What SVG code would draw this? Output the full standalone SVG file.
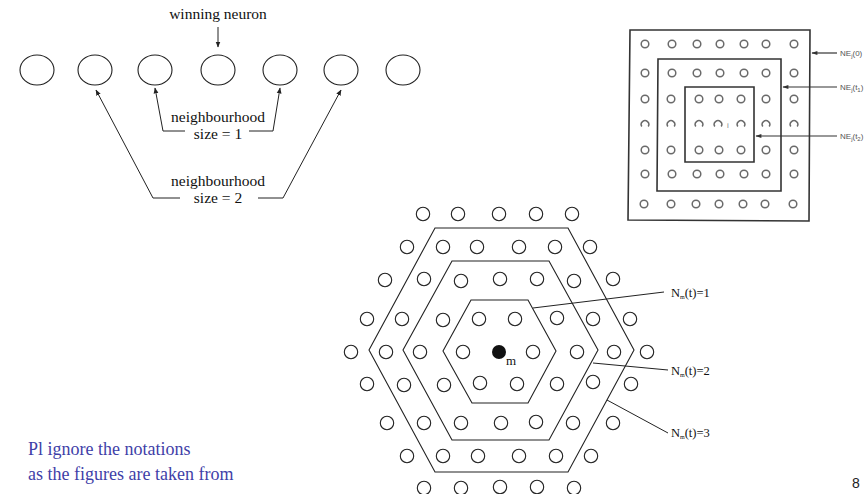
<svg xmlns="http://www.w3.org/2000/svg" width="868" height="494" viewBox="0 0 868 494">
<style>
.t{font-family:"Liberation Serif","Times New Roman",serif;fill:#111}
.n{fill:none;stroke:#222;stroke-width:1.1}
.ln{fill:none;stroke:#222;stroke-width:1}
.sq{fill:none;stroke:#333;stroke-width:1.6}
.sc{fill:none;stroke:#6a6a6a;stroke-width:1.5}
.hc{fill:none;stroke:#222;stroke-width:1.1}
.hx{fill:none;stroke:#222;stroke-width:1.1}
.lbl{font-family:"Liberation Sans",Arial,sans-serif;font-size:8px;fill:#555}
.blue{font-family:"Liberation Serif","Times New Roman",serif;font-size:18px;fill:#3f3fa8}
</style>
<defs>
<marker id="ah" viewBox="0 0 10 10" refX="9" refY="5" markerWidth="6" markerHeight="6" orient="auto" markerUnits="userSpaceOnUse">
<path d="M0,1 L10,5 L0,9 Z" fill="#222"/>
</marker>
<marker id="ah2" viewBox="0 0 10 10" refX="9" refY="5" markerWidth="7" markerHeight="6" orient="auto" markerUnits="userSpaceOnUse">
<path d="M0,1.5 L10,5 L0,8.5 Z" fill="#333"/>
</marker>
</defs>
<rect width="868" height="494" fill="#fff"/>

<!-- 1D neighbourhood -->
<g id="neuron1"><ellipse class="n" cx="37" cy="70" rx="17" ry="15"/></g>
<g id="neuron2"><ellipse class="n" cx="95" cy="70" rx="17" ry="15"/></g>
<g id="neuron3"><ellipse class="n" cx="155" cy="70" rx="17" ry="15"/></g>
<g id="neuron4"><ellipse class="n" cx="218" cy="70" rx="17" ry="15"/></g>
<g id="neuron5"><ellipse class="n" cx="280" cy="70" rx="17" ry="15"/></g>
<g id="neuron6"><ellipse class="n" cx="341" cy="70" rx="17" ry="15"/></g>
<g id="neuron7"><ellipse class="n" cx="403" cy="70" rx="17" ry="15"/></g>
<g id="label-winning"><text class="t" x="218" y="19" font-size="15.5" text-anchor="middle">winning neuron</text></g>
<g id="label-size1"><text class="t" x="218" y="122" font-size="15.5" text-anchor="middle">neighbourhood</text><text class="t" x="218" y="139" font-size="15.5" text-anchor="middle">size = 1</text></g>
<g id="label-size2"><text class="t" x="218" y="186" font-size="15.5" text-anchor="middle">neighbourhood</text><text class="t" x="218" y="203" font-size="15.5" text-anchor="middle">size = 2</text></g>
<g id="connectors-1d">
<line class="ln" x1="218" y1="27" x2="218" y2="47" marker-end="url(#ah)"/>
<polyline class="ln" points="185,131 163,131 155,88" marker-end="url(#ah)"/>
<polyline class="ln" points="249,131 273,131 280,88" marker-end="url(#ah)"/>
<polyline class="ln" points="180,198 153,198 96,90" marker-end="url(#ah)"/>
<polyline class="ln" points="258,198 283,198 341,90" marker-end="url(#ah)"/>
</g>

<!-- Square grid neighbourhood -->
<g id="square-grid">
<polygon class="sq" points="630,30 810,30 809,221 628,220"/>
<polygon class="sq" points="658,59 781,59 781,191 657,191"/>
<polygon class="sq" points="685,87 754,87 754,162 685,162"/>
<g class="sc">
<circle cx="645" cy="44" r="3.8"/><circle cx="672" cy="44" r="3.8"/><circle cx="697" cy="44" r="3.8"/><circle cx="720" cy="44" r="3.8"/><circle cx="744" cy="44" r="3.8"/><circle cx="766" cy="44" r="3.8"/><circle cx="794" cy="44" r="3.8"/>
<circle cx="645" cy="73" r="3.8"/><circle cx="672" cy="73" r="3.8"/><circle cx="697" cy="73" r="3.8"/><circle cx="720" cy="73" r="3.8"/><circle cx="744" cy="73" r="3.8"/><circle cx="766" cy="73" r="3.8"/><circle cx="794" cy="73" r="3.8"/>
<circle cx="645" cy="99" r="3.8"/><circle cx="671" cy="99" r="3.8"/><circle cx="699" cy="99" r="3.8"/><circle cx="719" cy="99" r="3.8"/><circle cx="741" cy="99" r="3.8"/><circle cx="766" cy="99" r="3.8"/><circle cx="794" cy="99" r="3.8"/>
<path d="M641.8,126.5 A3.8,3.8 0 1 1 648.2,126.5 M667.8,126.5 A3.8,3.8 0 1 1 674.2,126.5 M695.8,126.5 A3.8,3.8 0 1 1 702.2,126.5 M714.8,126.5 A3.8,3.8 0 1 1 721.2,126.5 M737.8,126.5 A3.8,3.8 0 1 1 744.2,126.5 M762.8,126.5 A3.8,3.8 0 1 1 769.2,126.5 M790.8,126.5 A3.8,3.8 0 1 1 797.2,126.5"/>
<circle cx="645" cy="150" r="3.8"/><circle cx="671" cy="150" r="3.8"/><circle cx="699" cy="150" r="3.8"/><circle cx="719" cy="150" r="3.8"/><circle cx="741" cy="150" r="3.8"/><circle cx="766" cy="150" r="3.8"/><circle cx="794" cy="150" r="3.8"/>
<circle cx="645" cy="174" r="3.8"/><circle cx="672" cy="174" r="3.8"/><circle cx="697" cy="174" r="3.8"/><circle cx="720" cy="174" r="3.8"/><circle cx="744" cy="174" r="3.8"/><circle cx="766" cy="174" r="3.8"/><circle cx="794" cy="174" r="3.8"/>
<circle cx="644" cy="204" r="3.8"/><circle cx="671" cy="204" r="3.8"/><circle cx="696" cy="204" r="3.8"/><circle cx="719" cy="204" r="3.8"/><circle cx="743" cy="204" r="3.8"/><circle cx="765" cy="204" r="3.8"/><circle cx="793" cy="204" r="3.8"/>
</g>
<text x="727" y="128" font-family="Liberation Sans,Arial,sans-serif" font-size="8" fill="#888">i</text>
</g>
<g id="connectors-square">
<line x1="837" y1="53" x2="812" y2="53" stroke="#333" stroke-width="1.2" marker-end="url(#ah2)"/>
<line x1="837" y1="87" x2="783" y2="87" stroke="#333" stroke-width="1.2" marker-end="url(#ah2)"/>
<line x1="837" y1="136" x2="756" y2="136" stroke="#333" stroke-width="1.2" marker-end="url(#ah2)"/>
</g>
<g id="label-NE0"><text class="lbl" x="840" y="56">NE<tspan font-size="6" dy="2">j</tspan><tspan dy="-2">(0)</tspan></text></g>
<g id="label-NEt1"><text class="lbl" x="840" y="90">NE<tspan font-size="6" dy="2">j</tspan><tspan dy="-2">(t</tspan><tspan font-size="6" dy="2">1</tspan><tspan dy="-2">)</tspan></text></g>
<g id="label-NEt2"><text class="lbl" x="840" y="139">NE<tspan font-size="6" dy="2">j</tspan><tspan dy="-2">(t</tspan><tspan font-size="6" dy="2">2</tspan><tspan dy="-2">)</tspan></text></g>

<!-- Hexagonal neighbourhood -->
<g id="hex-grid">
<polygon class="hx" points="435,228 568,228 634,350 568,472 435,472 369,350"/>
<polygon class="hx" points="452,261 549,261 598,350 549,440 452,440 403,350"/>
<polygon class="hx" points="471,300 528,300 556,351 528,403 472,403 443,351"/>
<g class="hc">
<circle cx="423" cy="214" r="6.7"/><circle cx="458" cy="214" r="6.7"/><circle cx="499" cy="214" r="6.7"/><circle cx="536" cy="214" r="6.7"/><circle cx="572" cy="214" r="6.7"/>
<circle cx="407" cy="247" r="6.7"/><circle cx="443" cy="247" r="6.7"/><circle cx="477" cy="247" r="6.7"/><circle cx="519" cy="247" r="6.7"/><circle cx="555" cy="247" r="6.7"/><circle cx="590" cy="247" r="6.7"/>
<circle cx="385" cy="280" r="6.7"/><circle cx="424" cy="279" r="6.7"/><circle cx="461" cy="281" r="6.7"/><circle cx="500" cy="279" r="6.7"/><circle cx="537" cy="279" r="6.7"/><circle cx="574" cy="281" r="6.7"/><circle cx="613" cy="279" r="6.7"/>
<circle cx="367" cy="319" r="6.7"/><circle cx="402" cy="319" r="6.7"/><circle cx="443" cy="320" r="6.7"/><circle cx="479" cy="319" r="6.7"/><circle cx="515" cy="319" r="6.7"/><circle cx="557" cy="318" r="6.7"/><circle cx="593" cy="319" r="6.7"/><circle cx="630" cy="319" r="6.7"/>
<circle cx="351" cy="352" r="6.7"/><circle cx="386" cy="352" r="6.7"/><circle cx="420" cy="352" r="6.7"/><circle cx="463" cy="352" r="6.7"/><circle cx="533" cy="352" r="6.7"/><circle cx="577" cy="352" r="6.7"/><circle cx="614" cy="352" r="6.7"/><circle cx="647" cy="352" r="6.7"/>
<circle cx="367" cy="384" r="6.7"/><circle cx="404" cy="385" r="6.7"/><circle cx="444" cy="385" r="6.7"/><circle cx="480" cy="383" r="6.7"/><circle cx="517" cy="384" r="6.7"/><circle cx="557" cy="384" r="6.7"/><circle cx="593" cy="382" r="6.7"/><circle cx="631" cy="384" r="6.7"/>
<circle cx="387" cy="423" r="6.7"/><circle cx="424" cy="423" r="6.7"/><circle cx="461" cy="423" r="6.7"/><circle cx="501" cy="423" r="6.7"/><circle cx="536" cy="422" r="6.7"/><circle cx="573" cy="423" r="6.7"/><circle cx="613" cy="423" r="6.7"/>
<circle cx="407" cy="456" r="6.7"/><circle cx="443" cy="456" r="6.7"/><circle cx="478" cy="456" r="6.7"/><circle cx="519" cy="456" r="6.7"/><circle cx="556" cy="456" r="6.7"/><circle cx="591" cy="456" r="6.7"/>
<circle cx="424" cy="488" r="6.7"/><circle cx="461" cy="488" r="6.7"/><circle cx="500" cy="487" r="6.7"/><circle cx="537" cy="487" r="6.7"/><circle cx="574" cy="488" r="6.7"/>
</g>
</g>
<g id="node-m">
<circle cx="499" cy="352" r="7" fill="#111"/>
<text class="t" x="506" y="365" font-size="13">m</text>
</g>
<g id="connectors-hex">
<line class="ln" x1="533" y1="308" x2="664" y2="292"/>
<line class="ln" x1="593" y1="363" x2="668" y2="370"/>
<line class="ln" x1="607" y1="400" x2="668" y2="433"/>
</g>
<g id="label-N1"><text class="t" x="671" y="297" font-size="12.5">N<tspan font-size="6" dy="2">m</tspan><tspan dy="-2">(t)=1</tspan></text></g>
<g id="label-N2"><text class="t" x="671" y="375" font-size="12.5">N<tspan font-size="6" dy="2">m</tspan><tspan dy="-2">(t)=2</tspan></text></g>
<g id="label-N3"><text class="t" x="671" y="437" font-size="12.5">N<tspan font-size="6" dy="2">m</tspan><tspan dy="-2">(t)=3</tspan></text></g>

<!-- Note -->
<g id="note">
<text class="blue" x="28" y="455">Pl ignore the notations</text>
<text class="blue" x="28" y="480">as the figures are taken from</text>
</g>
<text x="852" y="488" font-family="Liberation Sans,Arial,sans-serif" font-size="14" fill="#222">8</text>
</svg>
